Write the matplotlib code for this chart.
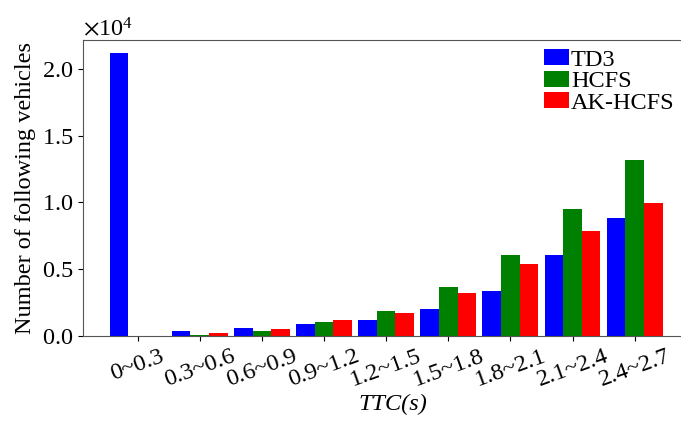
import numpy as np
import matplotlib
matplotlib.use("Agg")
import matplotlib.pyplot as plt
from matplotlib.ticker import ScalarFormatter

plt.rcParams['font.family'] = ['Liberation Serif', 'DejaVu Serif']
plt.rcParams['mathtext.fontset'] = 'stix'

# TTC intervals and vehicle counts per method
ttc_bins = ['0~0.3', '0.3~0.6', '0.6~0.9', '0.9~1.2', '1.2~1.5',
            '1.5~1.8', '1.8~2.1', '2.1~2.4', '2.4~2.7']
td3 = [21200, 400, 600, 880, 1170, 2020, 3370, 6070, 8840]
hcfs = [0, 80, 400, 1050, 1870, 3700, 6070, 9540, 13180]
ak_hcfs = [0, 200, 550, 1170, 1750, 3200, 5370, 7870, 9980]

fs = 17.5
x = np.arange(len(ttc_bins))
w = 0.3

fig = plt.figure(figsize=(6.81, 4.21), dpi=100)
ax = fig.add_axes([83/681, 85/421, 620/681, 296/421])

ax.bar(x - w, td3, w, color='#0000ff', label='TD3')
ax.bar(x, hcfs, w, color='#008000', label='HCFS')
ax.bar(x + w, ak_hcfs, w, color='#ff0000', label='AK-HCFS')

ax.set_xlim(-0.88, 9.1)
ax.set_ylim(0, 22170)
ax.set_yticks([0, 5000, 10000, 15000, 20000])

fmt = ScalarFormatter(useMathText=True)
fmt.set_powerlimits((0, 0))
ax.yaxis.set_major_formatter(fmt)
ax.yaxis.get_offset_text().set_fontsize(fs)

ax.set_xticks(x)
ax.set_xticklabels(ttc_bins, rotation=20, fontsize=fs)
ax.tick_params(axis='y', labelsize=fs)
ax.set_xlabel('TTC(s)', fontsize=fs, style='italic', labelpad=2)
ax.set_ylabel('Number of following vehicles', fontsize=fs, labelpad=4)

for s in ax.spines.values():
    s.set_color('#555555')

ax.legend(loc='upper left', bbox_to_anchor=(0.744, 0.97), frameon=False,
          fontsize=fs, handlelength=1.0, handleheight=0.65,
          handletextpad=0.1, labelspacing=0.0, borderpad=0,
          borderaxespad=0)

fig.savefig('out.png', dpi=100)
